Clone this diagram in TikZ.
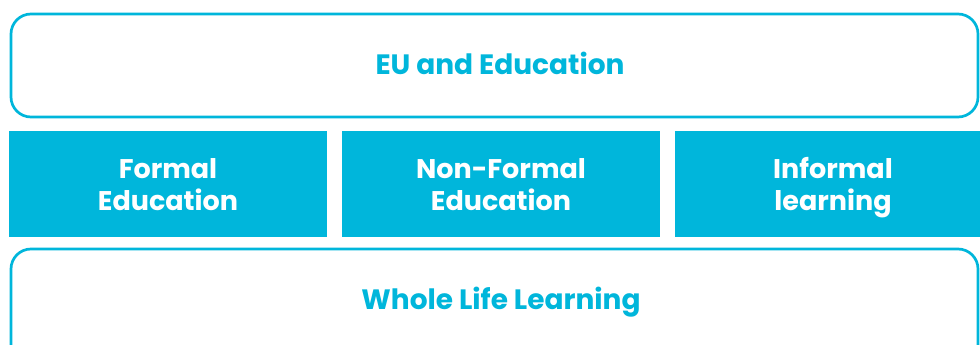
\documentclass[tikz,border=0pt]{standalone}
\usepackage{fontspec}
\setmainfont{Poppins}
\definecolor{cy}{HTML}{00B6DB}
\begin{document}
\begin{tikzpicture}[x=1pt,y=-1pt,
  outline/.style={draw=cy,line width=2.7pt,rounded corners=20pt,fill=white},
  band/.style={fill=cy,draw=none},
  ttl/.style={text=cy,font=\fontsize{28}{34}\selectfont\bfseries,anchor=base,inner sep=0pt},
  wtl/.style={text=white,font=\fontsize{27}{31}\selectfont\bfseries,anchor=base,inner sep=0pt}]
\useasboundingbox (0,0) rectangle (980,345);
\fill[white] (0,0) rectangle (980,345);
\draw[outline] (11,14) rectangle (978,117);
\node[ttl] (top) at (500,74.5) {EU and Education};
\fill[band] (9,131) rectangle (327,237);
\fill[band] (342,131) rectangle (660,237);
\fill[band] (675,131) rectangle (995,237);
\node[wtl] (f1) at (168,178) {Formal};
\node[wtl] (f2) at (168,210) {Education};
\node[wtl] (nf1) at (501,178) {Non-Formal};
\node[wtl] (nf2) at (501,210) {Education};
\node[wtl] (inf1) at (833,178) {Informal};
\node[wtl] (inf2) at (833,210) {learning};
\draw[outline] (11,249) rectangle (978,370);
\node[ttl] (bot) at (501,309) {Whole Life Learning};
\end{tikzpicture}
\end{document}
